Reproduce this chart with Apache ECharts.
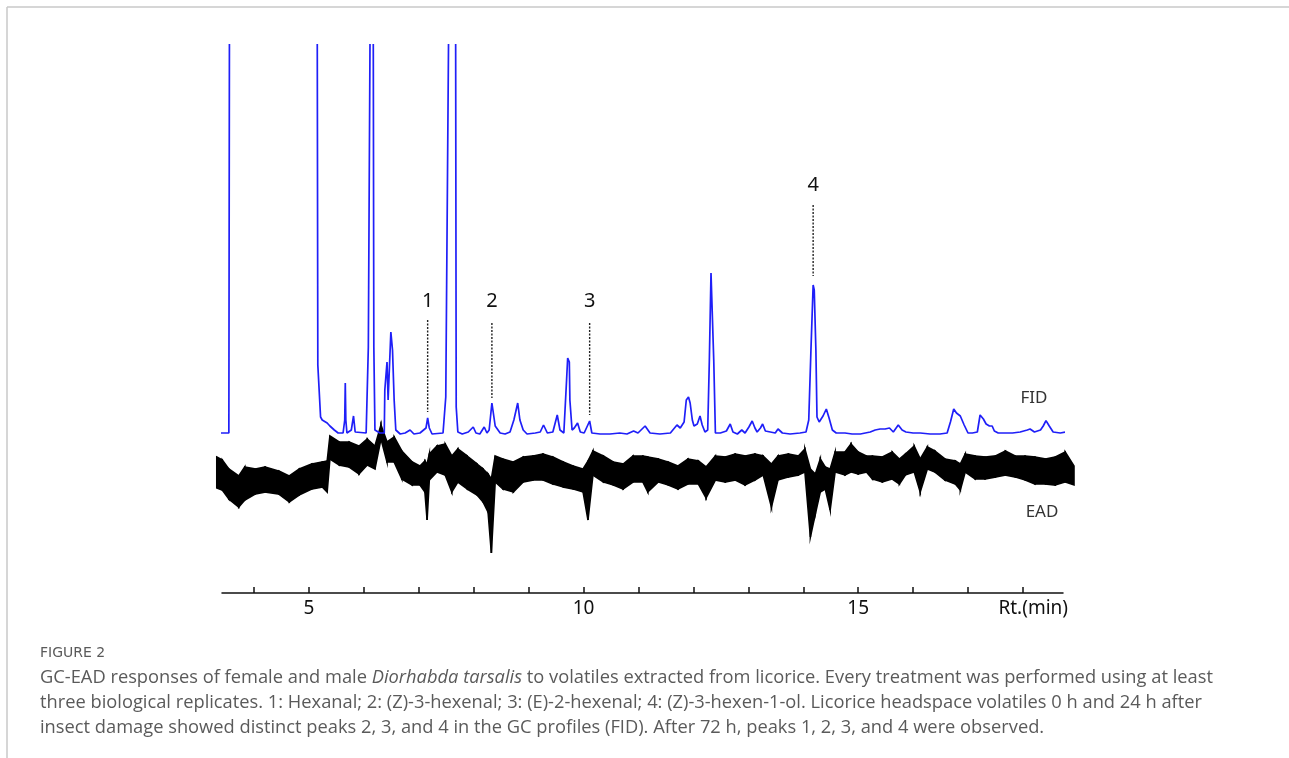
<!DOCTYPE html>
<html>
<head>
<meta charset="utf-8">
<title>GC-EAD</title>
<script src="https://cdn.jsdelivr.net/npm/echarts@6.0.0/dist/echarts.min.js"></script>
<style>
html, body { margin: 0; padding: 0; background: #fff; }
#gc_ead { width: 1289px; height: 758px; }
</style>
</head>
<body>
<div id="gc_ead"></div>
<script>
// x axis (retention time, min)
var tickValues = [4, 5, 6, 7, 8, 9, 10, 11, 12, 13, 14, 15, 16, 17, 18];
var labelValues = [5, 10, 15];

// FID trace [time, signal]; null = detector off scale
var fidTrace = [
    [3.33, 0], [3.54, 0], [3.55, 97.25], [4.3, null], [5.15, 97.25], [5.16, 17],
    [5.21, 4], [5.24, 3.25], [5.27, 3.75], [5.33, 2.5], [5.38, 1.75], [5.46, 0.75],
    [5.53, 0], [5.62, 0], [5.65, 3.25], [5.66, 12.5], [5.67, 3.25], [5.69, 0],
    [5.77, 0.75], [5.81, 4.25], [5.84, 0.25], [6.04, 0], [6.07, 0], [6.08, 21.5],
    [6.11, 97.25], [6.14, null], [6.17, 97.25], [6.18, 21.5], [6.20, 0.75], [6.29, 0],
    [6.37, 0], [6.38, 10.75], [6.42, 17.75], [6.44, 8.25], [6.49, 25.25], [6.52, 20.75],
    [6.55, 8.25], [6.58, 0.75], [6.66, -0.25], [6.75, 0], [6.84, 0.75], [6.91, -0.25],
    [7.02, 0], [7.13, 1.25], [7.16, 3.75], [7.19, 1.25], [7.24, -0.25], [7.44, 0],
    [7.49, 9], [7.54, 97.25], [7.6, null], [7.67, 97.25], [7.68, 6.5], [7.71, 0.25],
    [7.79, -0.25], [7.90, 0.25], [7.99, 1.5], [8.04, 0], [8.11, -0.25], [8.19, 1.5],
    [8.24, 0], [8.28, 0.75], [8.33, 7.5], [8.39, 1.75], [8.48, 0], [8.57, -0.25],
    [8.66, 0.25], [8.73, 3.25], [8.80, 7.5], [8.84, 3.25], [8.90, 0.75], [8.97, -0.25],
    [9.12, 0], [9.21, 0.25], [9.27, 2], [9.34, 0], [9.44, 0.25], [9.52, 4.5],
    [9.57, 0.75], [9.64, 0], [9.69, 13.25], [9.71, 18.75], [9.74, 17.75], [9.75, 8.25],
    [9.79, 0.75], [9.83, 1.25], [9.89, 2.5], [9.94, 0.25], [10.01, 0], [10.11, 3],
    [10.15, 0], [10.30, -0.25], [10.48, -0.25], [10.66, 0], [10.79, -0.25], [10.91, 0.5],
    [10.99, 0], [11.12, 1.75], [11.21, 0], [11.39, -0.25], [11.58, 0], [11.70, 2],
    [11.76, 1.25], [11.83, 2.75], [11.87, 8.25], [11.91, 9], [11.94, 7.5], [11.98, 3.25],
    [12.01, 1.75], [12.07, 2.25], [12.12, 4.25], [12.16, 2], [12.21, 0.25], [12.26, 0.75],
    [12.29, 18.25], [12.32, 40], [12.34, 39.5], [12.37, 18.25], [12.40, 0], [12.49, 0],
    [12.60, 0.5], [12.67, 2.25], [12.72, 0.25], [12.80, -0.25], [12.88, 0.75], [12.94, 0],
    [13.01, 1.5], [13.07, 3], [13.12, 1.25], [13.16, 0.25], [13.22, 1.25], [13.26, 2.25],
    [13.31, 0.5], [13.40, 0.25], [13.49, 0], [13.54, 1], [13.62, 0], [13.76, -0.25],
    [13.94, 0], [14.05, 0.25], [14.10, 3.25], [14.14, 20.75], [14.18, 37], [14.20, 35.75],
    [14.23, 20.75], [14.25, 4], [14.29, 2.75], [14.36, 4.25], [14.42, 6], [14.47, 3.75],
    [14.53, 0.75], [14.60, 0], [14.76, 0], [14.89, -0.25], [15.04, -0.25], [15.13, 0],
    [15.22, 0.25], [15.31, 0.75], [15.40, 1], [15.49, 1], [15.57, 1.25], [15.64, 0.25],
    [15.73, 2], [15.80, 0.75], [15.87, 0.25], [16.00, 0], [16.13, 0], [16.31, -0.25],
    [16.49, -0.25], [16.62, 0], [16.68, 2.75], [16.74, 6], [16.79, 5], [16.86, 4.25],
    [16.93, 2], [17.00, 0], [17.08, 0], [17.17, 0.25], [17.22, 4.5], [17.28, 3.5],
    [17.33, 2.25], [17.39, 1.75], [17.44, 1.75], [17.48, 0.5], [17.55, 0], [17.68, 0],
    [17.81, 0], [17.95, 0.25], [18.08, 0.75], [18.13, 1], [18.21, 0.25], [18.32, 0.75],
    [18.37, 1.75], [18.42, 3.1], [18.48, 1.75], [18.55, 0.25], [18.68, 0], [18.77, 0.25],
    [18.83, 1], [18.86, 1.5], [18.92, 1.5]
];

// EAD trace [time, upper edge, lower edge] of the noise band (mV)
var eadTrace = [
    [3.32, 1.03, 0.72], [3.42, 1.00, 0.70], [3.54, 0.91, 0.61], [3.72, 0.84, 0.53],
    [3.83, 0.93, 0.60], [4.02, 0.91, 0.66], [4.20, 0.93, 0.68], [4.45, 0.89, 0.66],
    [4.64, 0.84, 0.58], [4.82, 0.91, 0.65], [5.05, 0.96, 0.71], [5.24, 0.98, 0.73],
    [5.33, 0.99, 0.68], [5.38, 1.24, 1.01], [5.55, 1.18, 0.95], [5.73, 1.18, 0.93],
    [5.91, 1.14, 0.86], [6.06, 1.21, 0.95], [6.20, 1.14, 0.91], [6.31, 1.35, 1.21],
    [6.42, 1.18, 0.98], [6.55, 1.23, 0.98], [6.69, 1.09, 0.81], [6.88, 0.98, 0.75],
    [7.02, 0.94, 0.75], [7.11, 0.99, 0.68], [7.15, 0.96, 0.40], [7.19, 1.06, 0.80],
    [7.33, 1.14, 0.88], [7.48, 1.16, 0.85], [7.60, 1.04, 0.68], [7.71, 1.11, 0.78],
    [7.88, 1.04, 0.71], [8.06, 0.96, 0.65], [8.17, 0.91, 0.58], [8.26, 0.86, 0.48],
    [8.32, 0.81, 0.07], [8.39, 1.04, 0.78], [8.53, 1.01, 0.71], [8.72, 0.98, 0.68],
    [8.90, 1.03, 0.78], [9.08, 1.04, 0.80], [9.26, 1.06, 0.80], [9.44, 1.03, 0.76],
    [9.63, 0.98, 0.73], [9.81, 0.94, 0.71], [9.99, 0.91, 0.68], [10.08, 0.99, 0.40],
    [10.17, 1.09, 0.85], [10.36, 1.04, 0.78], [10.54, 0.98, 0.75], [10.72, 0.96, 0.71],
    [10.90, 1.04, 0.78], [11.08, 1.04, 0.78], [11.17, 1.03, 0.68], [11.36, 1.01, 0.78],
    [11.54, 0.98, 0.75], [11.72, 0.94, 0.71], [11.90, 1.01, 0.76], [12.09, 0.99, 0.76],
    [12.23, 0.93, 0.62], [12.40, 1.04, 0.80], [12.58, 1.03, 0.78], [12.76, 1.06, 0.80],
    [12.94, 1.04, 0.75], [13.12, 1.06, 0.80], [13.27, 1.04, 0.85], [13.42, 0.96, 0.53],
    [13.54, 1.04, 0.80], [13.73, 1.06, 0.83], [13.91, 1.04, 0.85], [14.03, 1.11, 0.88],
    [14.13, 0.91, 0.23], [14.22, 0.86, 0.46], [14.31, 1.01, 0.68], [14.40, 0.93, 0.71],
    [14.49, 0.91, 0.50], [14.58, 1.08, 0.88], [14.76, 1.08, 0.85], [14.87, 1.16, 0.88],
    [15.00, 1.08, 0.86], [15.15, 1.04, 0.88], [15.26, 1.04, 0.81], [15.44, 1.03, 0.78],
    [15.62, 1.08, 0.81], [15.75, 1.01, 0.76], [15.86, 1.06, 0.85], [16.02, 1.14, 0.88],
    [16.13, 1.01, 0.68], [16.26, 1.13, 0.91], [16.40, 1.09, 0.88], [16.58, 1.01, 0.80],
    [16.77, 0.99, 0.76], [16.86, 0.96, 0.70], [16.95, 1.06, 0.88], [17.13, 1.04, 0.81],
    [17.31, 1.03, 0.81], [17.50, 1.04, 0.83], [17.68, 1.09, 0.85], [17.86, 1.04, 0.83],
    [18.04, 1.04, 0.80], [18.22, 1.03, 0.76], [18.41, 1.01, 0.76], [18.59, 1.03, 0.75],
    [18.77, 1.08, 0.78], [18.93, 0.94, 0.75]
];

// EAD-active peaks: label, time, dashed marker from/to and label height (FID units)
var peakNames = ['1', '2', '3', '4'];
var peakTimes = [7.16, 8.33, 10.11, 14.18];
var peakMarkTop = [28.25, 27.5, 27.5, 57];
var peakMarkBottom = [5.25, 8.75, 4.5, 39.25];
var peakLabelAt = [33, 33, 33, 62];

var captionLines = [
    'GC-EAD responses of female and male {i|Diorhabda tarsalis} to volatiles extracted from licorice. Every treatment was performed using at least',
    'three biological replicates. 1: Hexanal; 2: (Z)-3-hexenal; 3: (E)-2-hexenal; 4: (Z)-3-hexen-1-ol. Licorice headspace volatiles 0 h and 24 h after',
    'insect damage showed distinct peaks 2, 3, and 4 in the GC profiles (FID). After 72 h, peaks 1, 2, 3, and 4 were observed.'
];

var chart = echarts.init(document.getElementById('gc_ead'));

var fidData = fidTrace.map(function (p) {
    return [p[0], p[1] === null ? '-' : p[1]];
});

var peakData = peakNames.map(function (n, i) {
    return [peakTimes[i], peakMarkTop[i], peakMarkBottom[i], peakLabelAt[i]];
});

var labelFont = '"Noto Sans", sans-serif';
var captionFont = '"Open Sans", "Noto Sans", sans-serif';
var captionText = captionLines.map(function (txt, i) {
    return {
        type: 'text',
        x: 40,
        y: 678 + i * 25,
        style: {
            text: txt,
            fill: '#5a5a5a',
            fontSize: 18.3,
            fontFamily: captionFont,
            verticalAlign: 'middle',
            rich: {
                i: { fontStyle: 'italic', fontSize: 18.3, fontFamily: captionFont, fill: '#5a5a5a' }
            }
        }
    };
});

// noise band of the EAD: one filled quad between neighbouring samples
function renderBand(params, api) {
    var i = params.dataIndex;
    if (i >= eadTrace.length - 1) return;
    var a = eadTrace[i], b = eadTrace[i + 1];
    var pts = [
        api.coord([a[0], a[1]]),
        api.coord([b[0], b[1]]),
        api.coord([b[0], b[2]]),
        api.coord([a[0], a[2]])
    ];
    return {
        type: 'polygon',
        shape: { points: pts },
        style: { fill: '#000', stroke: '#000', lineWidth: 1.6, lineJoin: 'miter' }
    };
}

// dashed marker + number above each active peak
function renderPeak(params, api) {
    var top = api.coord([api.value(0), api.value(1)]);
    var bottom = api.coord([api.value(0), api.value(2)]);
    var lab = api.coord([api.value(0), api.value(3)]);
    return {
        type: 'group',
        children: [{
            type: 'line',
            shape: { x1: top[0], y1: top[1], x2: bottom[0], y2: bottom[1] },
            style: { stroke: '#222', lineWidth: 1.4, lineDash: [2, 1.5] }
        }, {
            type: 'text',
            x: lab[0],
            y: lab[1],
            style: {
                text: peakNames[params.dataIndex],
                align: 'center',
                verticalAlign: 'middle',
                fontSize: 20,
                fontFamily: labelFont,
                fill: '#111'
            }
        }]
    };
}

var option = {
    animation: false,
    backgroundColor: '#fff',
    grid: {
        left: 222,
        right: 226,
        top: 44,
        bottom: 165
    },
    xAxis: {
        type: 'value',
        min: 3.415,
        max: 18.73,
        name: 'Rt.(min)',
        nameLocation: 'end',
        nameGap: 5,
        nameTextStyle: {
            align: 'right',
            verticalAlign: 'top',
            padding: [6, 0, 0, 0],
            fontSize: 19,
            color: '#111',
            fontFamily: labelFont
        },
        axisLine: {
            onZero: false,
            lineStyle: { color: '#111', width: 1.5 }
        },
        axisTick: {
            inside: true,
            length: 6,
            customValues: tickValues,
            lineStyle: { color: '#111', width: 1.5 }
        },
        axisLabel: {
            customValues: labelValues,
            margin: 6,
            fontSize: 19,
            color: '#111',
            fontFamily: labelFont
        },
        splitLine: { show: false }
    },
    yAxis: [
        { type: 'value', min: -40, max: 97.25, show: false },
        { type: 'value', min: -0.33, max: 5.16, show: false }
    ],
    series: [
        {
            name: 'EAD',
            type: 'custom',
            yAxisIndex: 1,
            data: eadTrace,
            encode: { x: 0, y: [1, 2] },
            renderItem: renderBand,
            silent: true,
            z: 2
        },
        {
            name: 'FID',
            type: 'line',
            yAxisIndex: 0,
            data: fidData,
            symbol: 'none',
            clip: false,
            connectNulls: false,
            z: 4,
            lineStyle: { color: '#1f1ff8', width: 1.7 }
        },
        {
            name: 'peaks',
            type: 'custom',
            yAxisIndex: 0,
            data: peakData,
            encode: { x: 0, y: [1, 2, 3] },
            renderItem: renderPeak,
            silent: true,
            z: 5
        }
    ],
    graphic: [
        // figure frame
        { type: 'line', shape: { x1: 7, y1: 7, x2: 1289, y2: 7 }, style: { stroke: '#c8c8c8', lineWidth: 1.5 } },
        { type: 'line', shape: { x1: 7, y1: 7, x2: 7, y2: 758 }, style: { stroke: '#c8c8c8', lineWidth: 1.5 } },
        {
            type: 'text', x: 1034, y: 398,
            style: { text: 'FID', align: 'center', verticalAlign: 'middle', fontSize: 17, fill: '#333', fontFamily: labelFont }
        },
        {
            type: 'text', x: 1042, y: 512,
            style: { text: 'EAD', align: 'center', verticalAlign: 'middle', fontSize: 17, fill: '#333', fontFamily: labelFont }
        },
        {
            type: 'text', x: 40, y: 653,
            style: { text: 'FIGURE 2', fill: '#5a5a5a', fontSize: 14, fontFamily: '"DejaVu Sans", sans-serif', verticalAlign: 'middle' }
        }
    ].concat(captionText)
};

chart.setOption(option);
</script>
</body>
</html>
